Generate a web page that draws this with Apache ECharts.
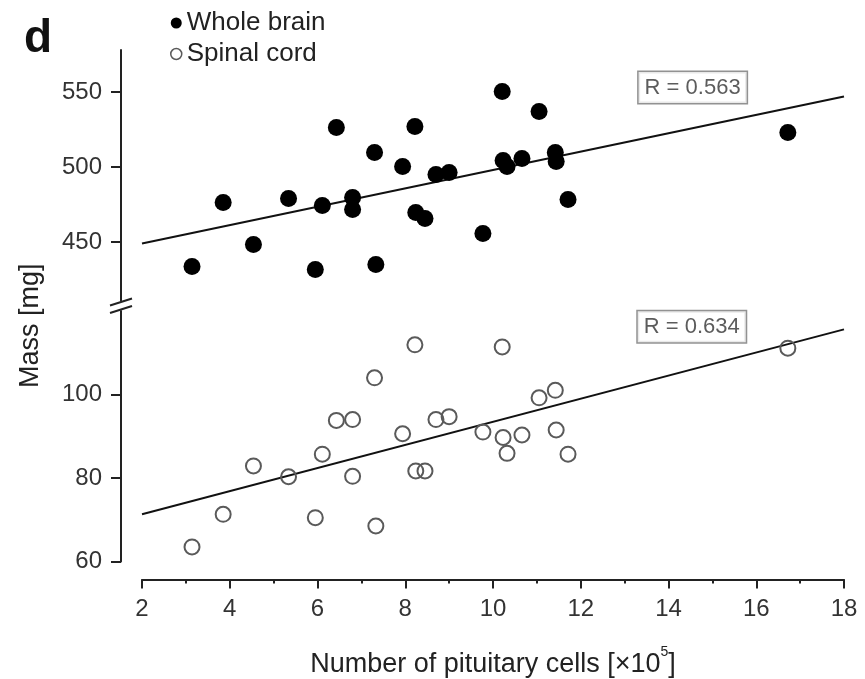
<!DOCTYPE html>
<html>
<head>
<meta charset="utf-8">
<script src="https://cdn.jsdelivr.net/npm/echarts@6/dist/echarts.min.js"></script>
<style>
html,body{margin:0;padding:0;background:#fff;}
#chart{width:865px;height:679px;}
</style>
</head>
<body>
<div id="chart"></div>
<script>
// ---- data ----
const cells = [3.14,3.85,4.54,5.34,5.95,6.11,6.43,6.80,6.80,7.30,7.33,7.94,8.22,8.24,8.45,8.70,9.00,9.77,10.21,10.23,10.32,10.66,11.05,11.42,11.44,11.71,16.72];
const brainMass = [433.7,476.3,448.3,479,431.7,474.3,526.3,479.7,471.7,509.7,435,500.3,527,469.7,465.7,495,496.3,455.7,550.3,504.3,500.3,505.7,537,509.7,503.7,478.3,523];
const cordMass = [63.5,71.3,82.9,80.3,70.5,85.7,93.8,94.0,80.4,104.0,68.5,90.6,111.9,81.7,81.7,94.0,94.7,91.0,111.4,89.7,85.9,90.3,99.2,101.0,91.5,85.7,111.1];
const fitBrain = [[2,449],[18,547]];
const fitCord = [[2,71.3],[18,115.6]];
const rBrain = [[14.55,553,'R = 0.563']];
const rCord = [[14.53,116.2,'R = 0.634']];
const xTicks = {min:2, max:18, interval:2};
const topRange = [411,578];
const topMajor = [450,500,550];
const topMinor = [425,475,525,575];
const botRange = [60,120];
const botMajor = [60,80,100];
const botMinor = [65,70,75,85,90,95,105,110,115];

const FONT = '"Liberation Sans", Arial, Helvetica, sans-serif';
const INK = '#222';
const gridLeft = 142, gridRight = 21, yOff = 21;

const chart = echarts.init(document.getElementById('chart'));

function yAxisPair(grid, range, major, minor) {
  return [
    {
      type:'value', gridIndex:grid, min:range[0], max:range[1], offset:yOff,
      axisLine:{show:true, lineStyle:{color:INK, width:2}},
      axisTick:{show:true, length:10, lineStyle:{color:INK, width:2}, customValues:major},
      axisLabel:{show:true, customValues:major, fontSize:24, color:'#333', fontFamily:FONT, margin:19},
      splitLine:{show:false}
    },
    {
      type:'value', gridIndex:grid, min:range[0], max:range[1], offset:yOff,
      axisLine:{show:false},
      axisTick:{show:true, length:5, lineStyle:{color:INK, width:2}, customValues:minor},
      axisLabel:{show:false},
      splitLine:{show:false}
    }
  ];
}

const brainData = cells.map((c,i)=>[c, brainMass[i]]);
const cordData = cells.map((c,i)=>[c, cordMass[i]]);

function rSeries(data, xi, yi) {
  return {
    type:'scatter', xAxisIndex:xi, yAxisIndex:yi, symbolSize:1, silent:true,
    itemStyle:{color:'transparent'},
    data:data,
    label:{show:true, position:'inside', formatter:p=>p.data[2], fontSize:22, color:'#333',
      fontFamily:FONT, borderColor:'#777', borderWidth:1.5, padding:[5,6,4,6], backgroundColor:'#fff'}
  };
}

chart.setOption({
  animation:false,
  backgroundColor:'#fff',
  title:{text:'d', left:19, top:11, textStyle:{fontSize:46, fontWeight:'bold', color:'#111', fontFamily:FONT}},
  legend:{
    orient:'vertical', left:165, top:5, itemWidth:11, itemHeight:11, itemGap:5,
    textStyle:{fontSize:26, color:INK, fontFamily:FONT},
    data:[{name:'Whole brain', icon:'circle'},{name:'Spinal cord', icon:'circle', itemStyle:{borderWidth:1.5}}],
    selectedMode:false
  },
  grid:[
    {left:gridLeft, right:gridRight, top:50, height:(topRange[1]-topRange[0])*1.5},
    {left:gridLeft, right:gridRight, top:311, bottom:116}
  ],
  xAxis:[
    {type:'value', gridIndex:0, min:xTicks.min, max:xTicks.max, interval:xTicks.interval, show:false, splitLine:{show:false}},
    {type:'value', gridIndex:1, min:xTicks.min, max:xTicks.max, interval:xTicks.interval, offset:18,
      axisLine:{show:true, lineStyle:{color:INK, width:2}},
      axisTick:{show:true, length:9, lineStyle:{color:INK, width:2}},
      minorTick:{show:true, splitNumber:2, length:4, lineStyle:{color:INK, width:2}},
      axisLabel:{fontSize:24, color:'#333', fontFamily:FONT, margin:18},
      splitLine:{show:false},
      name:'{a|Number of pituitary cells [×10}{s|5}{a|]}',
      nameLocation:'middle', nameGap:66,
      nameTextStyle:{rich:{
        a:{fontSize:27, color:INK, fontFamily:FONT},
        s:{fontSize:14, color:INK, fontFamily:FONT, verticalAlign:'top', lineHeight:38}
      }}
    }
  ],
  yAxis:[].concat(yAxisPair(0, topRange, topMajor, topMinor), yAxisPair(1, botRange, botMajor, botMinor)),
  series:[
    {name:'Whole brain', type:'scatter', xAxisIndex:0, yAxisIndex:0, symbolSize:17,
      itemStyle:{color:'#000', opacity:1}, data:brainData, z:3},
    {name:'Spinal cord', type:'scatter', xAxisIndex:1, yAxisIndex:2, symbolSize:15,
      itemStyle:{color:'transparent', borderColor:'#5a5a5a', borderWidth:2, opacity:1}, data:cordData, z:3},
    {name:'fitBrain', type:'line', xAxisIndex:0, yAxisIndex:0, data:fitBrain, showSymbol:false, silent:true,
      lineStyle:{color:'#111', width:2}, z:2},
    {name:'fitCord', type:'line', xAxisIndex:1, yAxisIndex:2, data:fitCord, showSymbol:false, silent:true,
      lineStyle:{color:'#111', width:2}, z:2},
    rSeries(rBrain, 0, 0),
    rSeries(rCord, 1, 2)
  ]
});

// axis-break marks and y title, placed from the axes' own pixel conversion
const axisX = chart.convertToPixel({xAxisIndex:1}, xTicks.min) - yOff;
const yTopEnd = chart.convertToPixel({yAxisIndex:0}, topRange[0]);
const yBotEnd = chart.convertToPixel({yAxisIndex:2}, botRange[1]);
function slash(cy){
  return {type:'line', shape:{x1:axisX-11, y1:cy+3.5, x2:axisX+11, y2:cy-3.5},
    style:{stroke:INK, lineWidth:2}, z:10};
}
chart.setOption({
  graphic:[
    slash(yTopEnd+1.5),
    slash(yBotEnd-1.5),
    {type:'text', x:31, y:(yTopEnd+yBotEnd)/2+20, rotation:Math.PI/2,
      style:{text:'Mass [mg]', font:'27px '+FONT, fill:INK, align:'center', verticalAlign:'middle'}}
  ]
});
</script>
</body>
</html>
